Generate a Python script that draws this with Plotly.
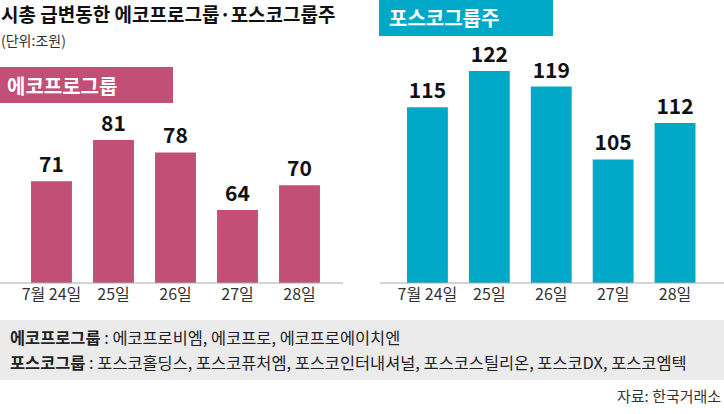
import plotly.graph_objects as go

W, H = 724, 414

dates = ["7월 24일", "25일", "26일", "27일", "28일"]
ecopro = [71, 81, 78, 64, 70]
posco = [115, 122, 119, 105, 112]

ecopro_members = "에코프로비엠, 에코프로, 에코프로에이치엔"
posco_members = "포스코홀딩스, 포스코퓨처엠, 포스코인터내셔널, 포스코스틸리온, 포스코DX, 포스코엠텍"

PINK = "#c24f76"
CYAN = "#00a8c8"
FONT = "Noto Sans CJK KR"


def px_x(x):
    return x / W


def px_y(y):
    return 1 - y / H


fig = go.Figure()
fig.add_trace(go.Bar(
    x=dates, y=ecopro, marker_color=PINK, marker_line_width=0,
    text=ecopro, textposition="outside", cliponaxis=False,
    textfont=dict(family=FONT, size=21, color="#111", weight="bold"),
    xaxis="x", yaxis="y",
))
fig.add_trace(go.Bar(
    x=dates, y=posco, marker_color=CYAN, marker_line_width=0,
    text=posco, textposition="outside", cliponaxis=False,
    textfont=dict(family=FONT, size=21, color="#111", weight="bold"),
    xaxis="x2", yaxis="y2",
))

base = px_y(283)
axis_common = dict(showgrid=False, zeroline=False, showline=False, ticks="",
                   tickfont=dict(family=FONT, size=16, color="#333"), fixedrange=True)
fig.update_layout(
    width=W, height=H,
    margin=dict(l=0, r=0, t=0, b=0),
    paper_bgcolor="white", plot_bgcolor="rgba(0,0,0,0)",
    showlegend=False, bargap=0.34,
    font=dict(family=FONT),
    xaxis=dict(domain=[px_x(20.5), px_x(330.5)], anchor="y", **axis_common),
    yaxis=dict(domain=[base, 1], range=[46.3, 115], visible=False, fixedrange=True),
    xaxis2=dict(domain=[px_x(396.5), px_x(706)], anchor="y2", **axis_common),
    yaxis2=dict(domain=[base, 1], range=[81.3, 135.6], visible=False, fixedrange=True),
)

shapes = [
    # 하단 회색 박스
    dict(type="rect", xref="paper", yref="paper", x0=0, x1=1, y0=px_y(380), y1=px_y(320),
         fillcolor="#ebebeb", line_width=0, layer="below"),
    # 그룹 라벨 박스
    dict(type="rect", xref="paper", yref="paper", x0=0, x1=px_x(173), y0=px_y(103), y1=px_y(67),
         fillcolor=PINK, line_width=0, layer="below"),
    dict(type="rect", xref="paper", yref="paper", x0=px_x(379), x1=px_x(553), y0=px_y(36), y1=px_y(0),
         fillcolor=CYAN, line_width=0, layer="below"),
    # 기준선
    dict(type="line", xref="paper", yref="paper", x0=0, x1=px_x(343), y0=base, y1=base,
         line=dict(color="#aaaaaa", width=1)),
    dict(type="line", xref="paper", yref="paper", x0=px_x(380), x1=1, y0=base, y1=base,
         line=dict(color="#aaaaaa", width=1)),
]
fig.update_layout(shapes=shapes)

ann = [
    dict(text="<b>시총 급변동한 에코프로그룹·포스코그룹주</b>", x=0, y=px_y(13),
         font=dict(size=19, color="#111")),
    dict(text="(단위:조원)", x=0, y=px_y(40), font=dict(size=14, color="#333")),
    dict(text="<b>에코프로그룹</b>", x=px_x(6), y=px_y(85), font=dict(size=20, color="white")),
    dict(text="<b>포스코그룹주</b>", x=px_x(388), y=px_y(18), font=dict(size=20, color="white")),
    dict(text="<b>에코프로그룹</b> : " + ecopro_members, x=px_x(9), y=px_y(337),
         font=dict(size=16.4, color="#222")),
    dict(text="<b>포스코그룹</b> : " + posco_members, x=px_x(9), y=px_y(362),
         font=dict(size=16.4, color="#222")),
    dict(text="자료: 한국거래소", x=px_x(722), y=px_y(395), xanchor="right",
         font=dict(size=15, color="#333")),
]
for a in ann:
    a.setdefault("xanchor", "left")
    fig.add_annotation(xref="paper", yref="paper", yanchor="middle", showarrow=False,
                       align="left", borderpad=0, **a)

# 기본 body 여백(8px) 제거, 툴바 숨김
fig.write_html("out.html", config={"displayModeBar": False},
               post_script="document.body.style.margin='0';")
